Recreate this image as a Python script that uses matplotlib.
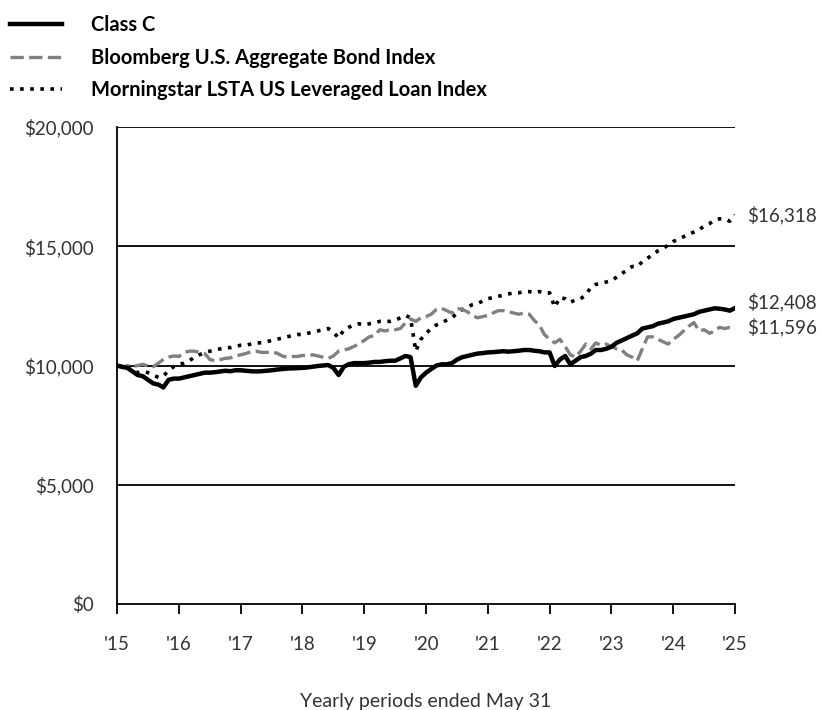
import numpy as np
import pandas as pd
import matplotlib
matplotlib.use("Agg")
import matplotlib.pyplot as plt

plt.rcParams['font.family'] = ['Lato', 'DejaVu Sans']

# monthly values, May 2015 .. May 2025
months = pd.date_range("2015-05-31", "2025-05-31", freq="ME")

class_c = [
    10000, 9950, 9900, 9750, 9600, 9550, 9400, 9250, 9200, 9080, 9400, 9450,
    9450, 9500, 9550, 9600, 9650, 9700, 9700, 9720, 9750, 9780, 9760, 9800,
    9800, 9780, 9760, 9750, 9760, 9780, 9800, 9830, 9850, 9870, 9880, 9890,
    9900, 9920, 9950, 9980, 10000, 10020, 9900, 9600, 9950, 10050, 10100, 10100,
    10100, 10120, 10150, 10150, 10180, 10200, 10200, 10300, 10400, 10350, 9150, 9500,
    9700, 9850, 10000, 10050, 10050, 10100, 10250, 10350, 10400, 10450, 10500, 10520,
    10550, 10560, 10580, 10600, 10580, 10600, 10620, 10650, 10650, 10620, 10600, 10550,
    10550, 9980, 10250, 10400, 10050, 10200, 10350, 10400, 10500, 10650, 10650, 10700,
    10780, 10950, 11050, 11150, 11250, 11350, 11550, 11600, 11650, 11750, 11800, 11850,
    11950, 12000, 12050, 12100, 12150, 12250, 12300, 12350, 12400, 12380, 12350, 12300,
    12408,
]

bond_index = [
    10000, 9900, 10000, 9950, 10000, 10050, 9980, 9950, 10100, 10250, 10350, 10400,
    10380, 10550, 10600, 10600, 10550, 10500, 10250, 10200, 10250, 10300, 10320, 10400,
    10450, 10500, 10580, 10600, 10550, 10550, 10560, 10520, 10400, 10350, 10380, 10380,
    10420, 10420, 10450, 10400, 10350, 10300, 10400, 10600, 10650, 10700, 10800, 10900,
    11050, 11200, 11250, 11500, 11450, 11500, 11500, 11550, 11800, 11950, 11850, 12000,
    12050, 12150, 12350, 12400, 12300, 12200, 12400, 12350, 12250, 12100, 12000, 12050,
    12100, 12200, 12300, 12300, 12250, 12200, 12150, 12200, 12150, 11900, 11700, 11300,
    11100, 10950, 11100, 10800, 10450, 10350, 10600, 10900, 10700, 10950, 10850, 10900,
    10800, 10700, 10650, 10450, 10350, 10200, 10700, 11200, 11200, 11100, 11000, 10900,
    11100, 11250, 11450, 11650, 11800, 11450, 11500, 11350, 11450, 11600, 11550, 11600,
    11596,
]

loan_index = [
    10000, 9950, 9900, 9800, 9700, 9750, 9700, 9600, 9500, 9550, 9800, 9950,
    10050, 10100, 10200, 10350, 10450, 10550, 10600, 10650, 10700, 10750, 10750, 10800,
    10850, 10850, 10900, 10950, 10950, 11000, 11050, 11100, 11150, 11200, 11250, 11300,
    11300, 11350, 11400, 11450, 11500, 11550, 11400, 11150, 11500, 11600, 11700, 11750,
    11700, 11750, 11800, 11850, 11850, 11850, 11900, 12000, 12100, 12000, 10600, 11100,
    11350, 11550, 11700, 11800, 11900, 12000, 12200, 12350, 12450, 12550, 12600, 12700,
    12800, 12850, 12900, 12950, 13000, 13050, 13050, 13100, 13100, 13050, 13100, 13050,
    13050, 12450, 12850, 12800, 12650, 12750, 12800, 12950, 13300, 13400, 13450, 13500,
    13550, 13700, 13850, 14000, 14150, 14150, 14350, 14500, 14650, 14800, 14900, 15050,
    15200, 15300, 15400, 15500, 15600, 15700, 15850, 15950, 16100, 16150, 16150, 16050,
    16318,
]

labels = ["Class C", "Bloomberg U.S. Aggregate Bond Index",
          "Morningstar LSTA US Leveraged Loan Index"]
year_ticks = pd.date_range("2015-05-31", "2025-05-31", freq="12ME")
year_labels = ["'15", "'16", "'17", "'18", "'19", "'20", "'21", "'22", "'23", "'24", "'25"]
y_ticks = [0, 5000, 10000, 15000, 20000]

txt_color = "#333333"

fig = plt.figure(figsize=(8.21, 7.10), dpi=100)
ax = fig.add_axes([0.1425, 0.1493, 0.7528, 0.6718])

ax.plot(months, loan_index, color="black", lw=2.6, ls=(0, (1, 1.8)),
        label=labels[2], zorder=3)
ax.plot(months, bond_index, color="#808080", lw=2.4, ls=(0, (4, 1.6)),
        label=labels[1], zorder=4)
ax.plot(months, class_c, color="black", lw=3.2, label=labels[0], zorder=5)

ax.set_xlim(months[0], months[-1])
ax.set_ylim(0, 20000)
ax.set_yticks(y_ticks)
ax.set_yticklabels(["${:,.0f}".format(v) for v in y_ticks])
ax.set_xticks(year_ticks)
ax.set_xticklabels(year_labels)
for v in y_ticks[1:]:
    ax.axhline(v, color="black", lw=1.3, zorder=1)

for s in ["top", "right"]:
    ax.spines[s].set_visible(False)
ax.spines["left"].set_linewidth(1.3)
ax.spines["bottom"].set_linewidth(1.3)
ax.tick_params(axis="y", length=0, pad=17, labelsize=13.5, labelcolor=txt_color)
ax.tick_params(axis="x", length=7, width=1.3, pad=16, labelsize=13.5,
               labelcolor=txt_color)
ax.set_xlabel("Yearly periods ended May 31", fontsize=14, labelpad=29,
              color=txt_color)

# end-value labels
ends = [(loan_index[-1], 0), (class_c[-1], 4.5), (bond_index[-1], 0)]
for val, dy in ends:
    ax.annotate("${:,.0f}".format(val), xy=(months[-1], val),
                xytext=(9, dy), textcoords="offset points",
                va="center", ha="left", fontsize=13.5, color=txt_color,
                annotation_clip=False)

handles, _ = ax.get_legend_handles_labels()
fig.legend(handles[::-1], labels, loc="upper left", bbox_to_anchor=(0.0025, 0.99),
           borderaxespad=0, frameon=False, prop={"weight": "bold", "size": 14.5},
           handlelength=2.6, handletextpad=1.4, labelspacing=0.62)

fig.savefig("out.png", dpi=100)
